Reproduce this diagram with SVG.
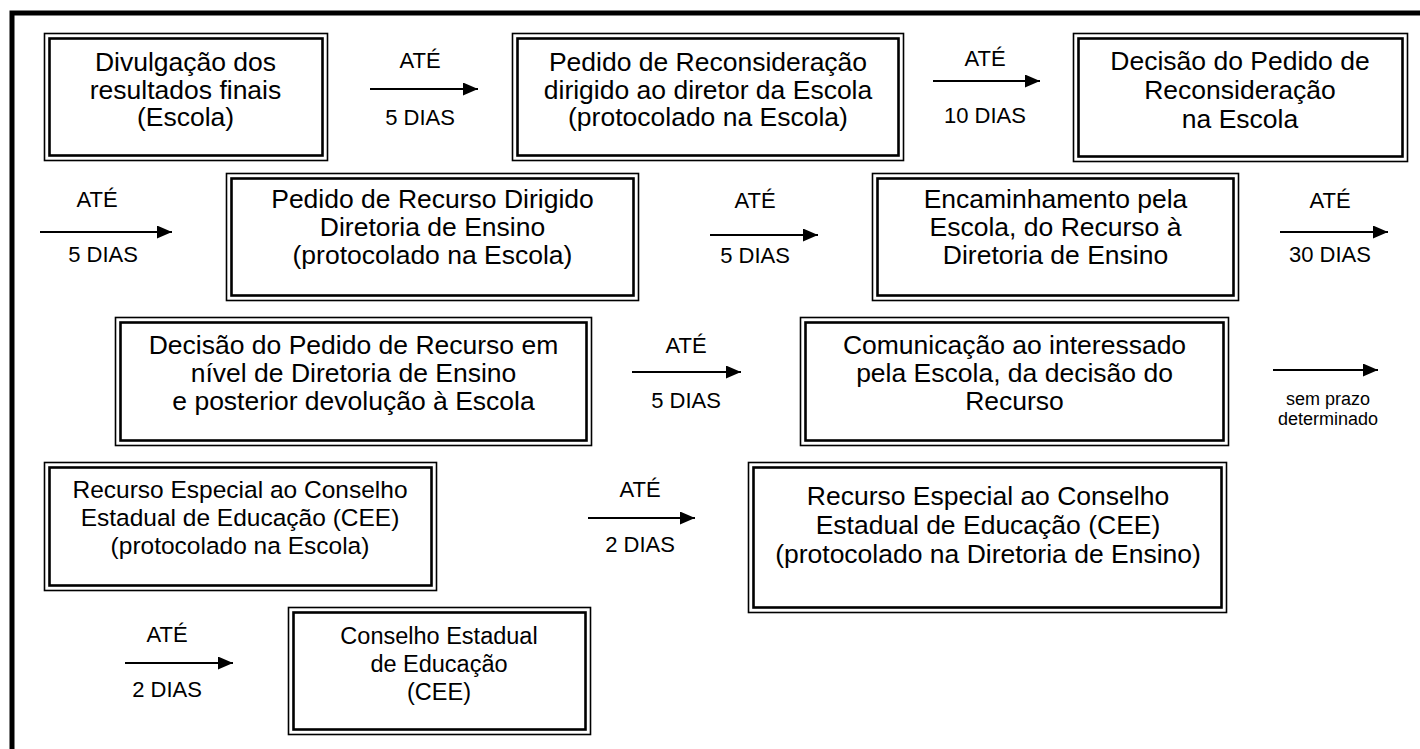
<svg xmlns="http://www.w3.org/2000/svg" width="1420" height="749" viewBox="0 0 1420 749">
<style>
.o{fill:none;stroke:#000;stroke-width:1.6}
.i{fill:none;stroke:#000;stroke-width:2.6}
.t{font-family:"Liberation Sans",Arial,sans-serif;font-size:26.5px;fill:#000;text-anchor:middle}
.th{font-size:24.5px}
.tj{font-size:23.5px}
.l{font-family:"Liberation Sans",Arial,sans-serif;font-size:22px;fill:#000;text-anchor:middle}
.s{font-family:"Liberation Sans",Arial,sans-serif;font-size:18px;fill:#000;text-anchor:middle}
.c{stroke:#000;stroke-width:2;fill:none}
</style>
<defs>
<marker id="ah" markerWidth="15" markerHeight="13" refX="15" refY="6.5" orient="auto" markerUnits="userSpaceOnUse">
<path d="M0,0 L15,6.5 L0,13 Z" fill="#000"/>
</marker>
</defs>
<rect width="1420" height="749" fill="#fff"/>
<path d="M12,749 V13 H1420" fill="none" stroke="#000" stroke-width="5"/>

<g id="nA">
<rect class="o" x="44.5" y="33.5" width="283" height="127"/>
<rect class="i" x="49.5" y="38.5" width="273" height="117"/>
<text class="t" x="185.5" y="71">Divulgação dos</text>
<text class="t" x="185.5" y="98.5">resultados finais</text>
<text class="t" x="185.5" y="126">(Escola)</text>
</g>
<g id="nB">
<rect class="o" x="512.5" y="33.5" width="391" height="127"/>
<rect class="i" x="517.5" y="38.5" width="381" height="117"/>
<text class="t" x="708" y="71">Pedido de Reconsideração</text>
<text class="t" x="708" y="98.5">dirigido ao diretor da Escola</text>
<text class="t" x="708" y="126">(protocolado na Escola)</text>
</g>
<g id="nC">
<rect class="o" x="1073.5" y="33.5" width="334" height="128"/>
<rect class="i" x="1078.5" y="38.5" width="324" height="118"/>
<text class="t" x="1240" y="70">Decisão do Pedido de</text>
<text class="t" x="1240" y="99">Reconsideração</text>
<text class="t" x="1240" y="128">na Escola</text>
</g>
<g id="nD">
<rect class="o" x="226.5" y="173.5" width="412" height="127"/>
<rect class="i" x="231.5" y="178.5" width="402" height="117"/>
<text class="t" x="432.5" y="208">Pedido de Recurso Dirigido</text>
<text class="t" x="432.5" y="236">Diretoria de Ensino</text>
<text class="t" x="432.5" y="264">(protocolado na Escola)</text>
</g>
<g id="nE">
<rect class="o" x="872.5" y="173.5" width="366" height="127"/>
<rect class="i" x="877.5" y="178.5" width="356" height="117"/>
<text class="t" x="1055.5" y="208">Encaminhamento pela</text>
<text class="t" x="1055.5" y="236">Escola, do Recurso à</text>
<text class="t" x="1055.5" y="264">Diretoria de Ensino</text>
</g>
<g id="nF">
<rect class="o" x="115.5" y="317.5" width="476" height="128"/>
<rect class="i" x="120.5" y="322.5" width="466" height="118"/>
<text class="t" x="353.5" y="354">Decisão do Pedido de Recurso em</text>
<text class="t" x="353.5" y="382">nível de Diretoria de Ensino</text>
<text class="t" x="353.5" y="410">e posterior devolução à Escola</text>
</g>
<g id="nG">
<rect class="o" x="800.5" y="317.5" width="428" height="128"/>
<rect class="i" x="805.5" y="322.5" width="418" height="118"/>
<text class="t" x="1014.5" y="354">Comunicação ao interessado</text>
<text class="t" x="1014.5" y="382">pela Escola, da decisão do</text>
<text class="t" x="1014.5" y="410">Recurso</text>
</g>
<g id="nH">
<rect class="o" x="44.5" y="462.5" width="392" height="128"/>
<rect class="i" x="49.5" y="467.5" width="382" height="118"/>
<text class="t th" x="240" y="498">Recurso Especial ao Conselho</text>
<text class="t th" x="240" y="526">Estadual de Educação (CEE)</text>
<text class="t th" x="240" y="554">(protocolado na Escola)</text>
</g>
<g id="nI">
<rect class="o" x="748.5" y="462.5" width="478" height="150"/>
<rect class="i" x="753.5" y="467.5" width="468" height="140"/>
<text class="t" x="988" y="505">Recurso Especial ao Conselho</text>
<text class="t" x="988" y="534">Estadual de Educação (CEE)</text>
<text class="t" x="988" y="563">(protocolado na Diretoria de Ensino)</text>
</g>
<g id="nJ">
<rect class="o" x="288.5" y="607.5" width="302" height="127"/>
<rect class="i" x="293.5" y="612.5" width="292" height="117"/>
<text class="t tj" x="439" y="644">Conselho Estadual</text>
<text class="t tj" x="439" y="672">de Educação</text>
<text class="t tj" x="439" y="700">(CEE)</text>
</g>

<g id="connectors">
<line class="c" x1="370" y1="89" x2="478" y2="89" marker-end="url(#ah)"/>
<text class="l" x="420" y="68">ATÉ</text>
<text class="l" x="420" y="125">5 DIAS</text>

<line class="c" x1="933" y1="81" x2="1040" y2="81" marker-end="url(#ah)"/>
<text class="l" x="985" y="66">ATÉ</text>
<text class="l" x="985" y="123">10 DIAS</text>

<line class="c" x1="40" y1="232" x2="172" y2="232" marker-end="url(#ah)"/>
<text class="l" x="97" y="207">ATÉ</text>
<text class="l" x="103" y="262">5 DIAS</text>

<line class="c" x1="710" y1="235" x2="818" y2="235" marker-end="url(#ah)"/>
<text class="l" x="755" y="208">ATÉ</text>
<text class="l" x="755" y="263">5 DIAS</text>

<line class="c" x1="1280" y1="232" x2="1388" y2="232" marker-end="url(#ah)"/>
<text class="l" x="1330" y="208">ATÉ</text>
<text class="l" x="1330" y="262">30 DIAS</text>

<line class="c" x1="632" y1="372" x2="741" y2="372" marker-end="url(#ah)"/>
<text class="l" x="686" y="353">ATÉ</text>
<text class="l" x="686" y="408">5 DIAS</text>

<line class="c" x1="1273" y1="370" x2="1378" y2="370" marker-end="url(#ah)"/>
<text class="s" x="1328" y="405">sem prazo</text>
<text class="s" x="1328" y="425">determinado</text>

<line class="c" x1="588" y1="518" x2="695" y2="518" marker-end="url(#ah)"/>
<text class="l" x="640" y="497">ATÉ</text>
<text class="l" x="640" y="552">2 DIAS</text>

<line class="c" x1="125" y1="663" x2="233" y2="663" marker-end="url(#ah)"/>
<text class="l" x="167" y="642">ATÉ</text>
<text class="l" x="167" y="697">2 DIAS</text>
</g>
</svg>
